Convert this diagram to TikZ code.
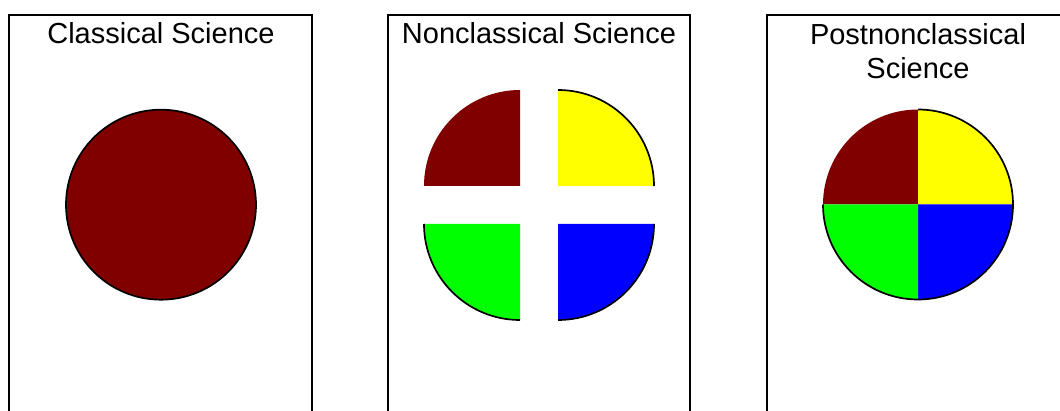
\documentclass[tikz,border=0pt]{standalone}
\usepackage{fontspec}
\setmainfont{Liberation Sans}
\definecolor{bordeaux}{RGB}{128,0,0}
\definecolor{jaune}{RGB}{255,255,0}
\definecolor{vert}{RGB}{0,255,0}
\definecolor{bleu}{RGB}{0,0,255}
\begin{document}
\begin{tikzpicture}[x=1pt,y=1pt]
	% Styles
	\tikzstyle{cadre}=[draw=black,line width=2pt]
	\tikzstyle{titre}=[inner sep=0pt,font=\fontsize{29}{33.5}\selectfont,align=center]
	\tikzstyle{contour}=[draw=black,line width=1.7pt]
	% Dimensions
	\def\Rayon{95}
	\def\RayonQuart{96}
	\def\HautCadre{395}
	\useasboundingbox (0,0) rectangle (1060,410);
	\clip (0,0) rectangle (1060,410);
	% Cadres
	\draw[cadre] (9,-10) rectangle (312,\HautCadre);
	\draw[cadre] (388,-10) rectangle (690,\HautCadre);
	\draw[cadre] (767,-10) rectangle (1070,\HautCadre);
	% Titres
	\node[titre,anchor=base] (classique) at (161,366) {Classical Science};
	\node[titre,anchor=base] (nonclassique) at (539,366) {Nonclassical Science};
	\node[titre,anchor=north] (postnonclassique) at (918,386.5) {Postnonclassical\\Science};
	% Science classique
	\filldraw[contour,fill=bordeaux] (161,205.3) circle (\Rayon);
	% Science non classique
	\coordinate (HG) at (520,224);
	\coordinate (HD) at (558,224);
	\coordinate (BG) at (520,186);
	\coordinate (BD) at (558,186);
	\fill[bordeaux] (HG) -- ++(180:\RayonQuart) arc (180:90:\RayonQuart) -- cycle;
	\fill[jaune] (HD) -- ++(90:\RayonQuart) arc (90:0:\RayonQuart) -- cycle;
	\fill[vert] (BG) -- ++(-90:\RayonQuart) arc (-90:-180:\RayonQuart) -- cycle;
	\fill[bleu] (BD) -- ++(0:\RayonQuart) arc (0:-90:\RayonQuart) -- cycle;
	\draw[contour] (HD) ++(90:\RayonQuart) arc (90:0:\RayonQuart);
	\draw[contour] (BG) ++(-90:\RayonQuart) arc (-90:-180:\RayonQuart);
	\draw[contour] (BD) ++(0:\RayonQuart) arc (0:-90:\RayonQuart);
	% Science post-non classique
	\coordinate (C) at (918,205.5);
	\fill[bordeaux] (C) -- ++(180:\Rayon) arc (180:90:\Rayon) -- cycle;
	\fill[jaune] (C) -- ++(90:\Rayon) arc (90:0:\Rayon) -- cycle;
	\fill[bleu] (C) -- ++(0:\Rayon) arc (0:-90:\Rayon) -- cycle;
	\fill[vert] (C) -- ++(-90:\Rayon) arc (-90:-180:\Rayon) -- cycle;
	\draw[contour] (C) ++(90:\Rayon) arc (90:-180:\Rayon);
\end{tikzpicture}
\end{document}
